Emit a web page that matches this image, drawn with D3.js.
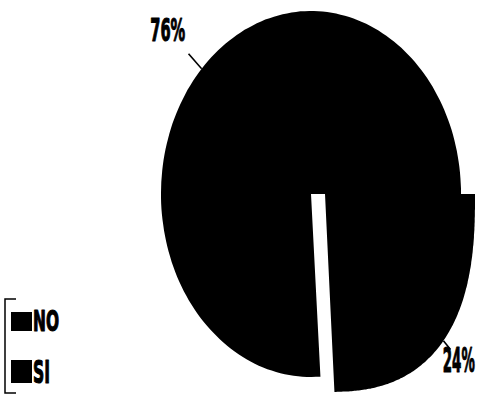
<!DOCTYPE html>
<html>
<head>
<meta charset="utf-8">
<script src="https://cdn.jsdelivr.net/npm/d3@7"></script>
<style>
  html, body { margin: 0; padding: 0; background: #fff; }
  svg { display: block; }
  text {
    font-family: "Liberation Sans Narrow", "DejaVu Sans Condensed", "Arial Narrow", sans-serif;
    font-weight: bold;
    fill: #000;
    stroke: #000;
    stroke-width: 1.1;
    stroke-linejoin: round;
  }
</style>
</head>
<body>
<svg id="chart" width="484" height="396"></svg>
<script>
// Answers, as a share of all responses
const categories = ["NO", "SI"];
const values = [76, 24];
const percentLabels = ["76%", "24%"];

const svg = d3.select("#chart");

// Wedge outlines: own centre (SI is pulled out), radii and roundness exponent
const wedgeGeom = [
  { cx: 311, cy: 194, rx: 150, ry: 183, n: 2.0 },
  { cx: 325, cy: 194, rx: 150, ry: 198, n: 2.6 }
];
// Percentage labels along each wedge's mid angle, in multiples of the rim distance
const labelGeom = [
  { lineEnd: 1.12, text: 1.31, size: 32, width: 35 },
  { lineEnd: 1.06, text: 1.13, size: 34, width: 32 }
];
// Legend rows
const legendGeom = [
  { y: 312, h: 19, size: 28, width: 26 },
  { y: 360, h: 23, size: 32, width: 17 }
];

// Condensed lettering: squeeze a text horizontally to a set width around (x, y)
function condensed(sel, x, y, width, anchor) {
  sel.attr("x", 0).attr("y", 0).attr("text-anchor", anchor);
  const natural = sel.node().getComputedTextLength();
  sel.attr("transform", `translate(${x},${y}) scale(${width / natural},1)`);
  return sel;
}

const total = d3.sum(values);
// NO closes at 3 o'clock, SI runs clockwise from 3 o'clock
const start = Math.PI / 2 + (values[1] / total) * 2 * Math.PI;
const pie = d3.pie().sort(null).startAngle(start).endAngle(start + 2 * Math.PI);
const arcs = pie(values);

// distance to a superellipse rim (unit space) at angle a
const rim = (a, n) => {
  const s = Math.abs(Math.sin(a)), c = Math.abs(Math.cos(a));
  return 1 / Math.pow(Math.pow(s, n) + Math.pow(c, n), 1 / n);
};

const wedgeLine = d3.lineRadial().angle(d => d.a).radius(d => d.r);

arcs.forEach((arc, i) => {
  const g = wedgeGeom[i];
  const steps = 160;
  const pts = [{ a: arc.startAngle, r: 0 }];
  for (let k = 0; k <= steps; k++) {
    const a = arc.startAngle + (arc.endAngle - arc.startAngle) * k / steps;
    pts.push({ a, r: rim(a, g.n) });
  }
  svg.append("path")
    .attr("class", "wedge " + categories[i])
    .attr("transform", `translate(${g.cx},${g.cy}) scale(${g.rx},${g.ry})`)
    .attr("d", wedgeLine(pts) + "Z")
    .attr("fill", "#000");
});

// leader lines and percentages
arcs.forEach((arc, i) => {
  const g = wedgeGeom[i], L = labelGeom[i];
  const a = (arc.startAngle + arc.endAngle) / 2;
  const k = rim(a, g.n);
  const pos = f => [g.cx + g.rx * k * f * Math.sin(a), g.cy - g.ry * k * f * Math.cos(a)];
  const p0 = pos(1), p1 = pos(L.lineEnd), pt = pos(L.text);
  svg.append("line")
    .attr("x1", p0[0]).attr("y1", p0[1])
    .attr("x2", p1[0]).attr("y2", p1[1])
    .attr("stroke", "#000").attr("stroke-width", 1.6);
  const t = svg.append("text")
    .attr("font-size", L.size)
    .text(percentLabels[i]);
  condensed(t, pt[0], pt[1] + L.size * 0.36, L.width, "middle");
});

// legend
const legend = svg.append("g").attr("class", "legend");
legend.append("path")
  .attr("d", "M16,299H5V393H16")
  .attr("fill", "none")
  .attr("stroke", "#000")
  .attr("stroke-width", 1.5);
categories.forEach((c, i) => {
  const r = legendGeom[i];
  legend.append("rect")
    .attr("x", 11).attr("y", r.y)
    .attr("width", 21).attr("height", r.h)
    .attr("fill", "#000");
  const t = legend.append("text")
    .attr("font-size", r.size)
    .text(c);
  condensed(t, 33, r.y + r.h, r.width, "start");
});
</script>
</body>
</html>
